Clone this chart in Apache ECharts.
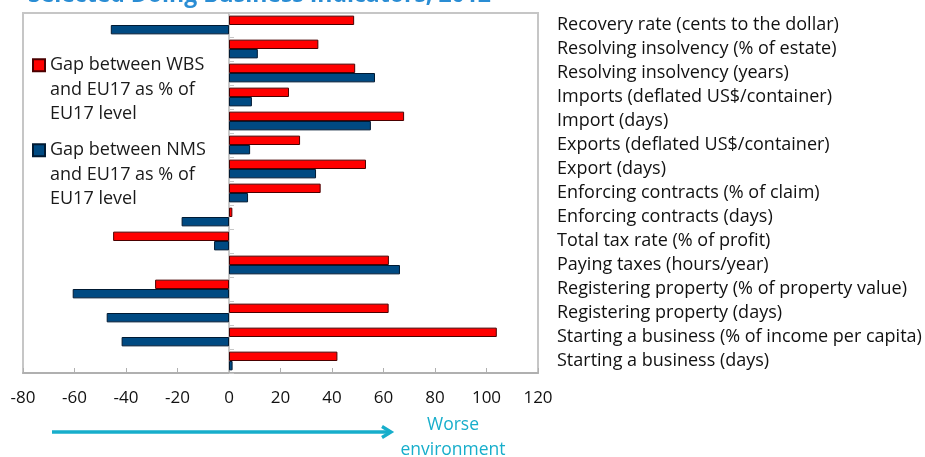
<!DOCTYPE html>
<html>
<head>
<meta charset="utf-8">
<script src="https://cdn.jsdelivr.net/npm/echarts@6/dist/echarts.min.js"></script>
<style>
  html, body { margin: 0; padding: 0; background: #fff; }
  #chart { width: 925px; height: 457px; }
</style>
</head>
<body>
<div id="chart"></div>
<script>
// categories, top to bottom
const categories = [
  'Recovery rate (cents to the dollar)',
  'Resolving insolvency (% of estate)',
  'Resolving insolvency (years)',
  'Imports (deflated US$/container)',
  'Import (days)',
  'Exports (deflated US$/container)',
  'Export (days)',
  'Enforcing contracts (% of claim)',
  'Enforcing contracts (days)',
  'Total tax rate (% of profit)',
  'Paying taxes (hours/year)',
  'Registering property (% of property value)',
  'Registering property (days)',
  'Starting a business (% of income per capita)',
  'Starting a business (days)'
];
const seriesNames = [
  'Gap between WBS\nand EU17 as % of\nEU17 level',
  'Gap between NMS\nand EU17 as % of\nEU17 level'
];
const wbsGap = [48.6, 34.7, 49, 23.3, 68, 27.6, 53.2, 35.6, 1.3, -45, 62.1, -28.7, 62, 104, 42.1];
const nmsGap = [-45.9, 11.2, 56.7, 8.9, 55.1, 8.2, 33.8, 7.4, -18.4, -5.8, 66.4, -60.7, -47.5, -41.7, 1.4];
const xTicks = { min: -80, max: 120, step: 20 };

const FONT = '"Open Sans", "Noto Sans", sans-serif';
const chart = echarts.init(document.getElementById('chart'));

// two empty lines in front so the square sits next to the first text line
const legendText = {
  fontFamily: FONT,
  fontSize: 18,
  color: '#1a1a1a',
  lineHeight: 24.5
};
const legendFormatter = name => '\n\n' + name;

const option = {
  animation: false,
  textStyle: { fontFamily: FONT },
  title: {
    text: 'Selected Doing Business Indicators, 2012',
    left: 28,
    top: -16,
    padding: 0,
    textStyle: { fontFamily: FONT, fontSize: 23, fontWeight: 'bold', color: '#2a8dd4' }
  },
  legend: [
    {
      data: [seriesNames[0]],
      left: 32, top: 4, padding: 0,
      icon: 'rect', itemWidth: 12, itemHeight: 12,
      formatter: legendFormatter,
      textStyle: legendText
    },
    {
      data: [seriesNames[1]],
      left: 32, top: 89, padding: 0,
      icon: 'rect', itemWidth: 12, itemHeight: 12,
      formatter: legendFormatter,
      textStyle: legendText
    }
  ],
  grid: {
    left: 23, right: 387, top: 13, bottom: 84,
    show: true,
    borderColor: '#c6c6c6',
    borderWidth: 2
  },
  xAxis: {
    type: 'value',
    min: xTicks.min, max: xTicks.max, interval: xTicks.step,
    axisLine: { show: true, lineStyle: { color: '#b0b0b0', width: 2 } },
    axisTick: { show: true, inside: true, length: 5, lineStyle: { color: '#b0b0b0' } },
    splitLine: { show: false },
    axisLabel: { fontFamily: FONT, fontSize: 17, color: '#111', margin: 17 }
  },
  yAxis: [
    {
      type: 'category',
      data: categories,
      inverse: true,
      axisLine: { show: true, onZero: true, lineStyle: { color: '#b8b8b8', width: 1.5 } },
      axisTick: { show: true, inside: true, length: 5, lineStyle: { color: '#c8c8c8' } },
      axisLabel: { show: false },
      splitLine: { show: false }
    },
    {
      type: 'category',
      data: categories,
      inverse: true,
      position: 'right',
      axisLine: { show: false, onZero: false },
      axisTick: { show: false },
      axisLabel: { fontFamily: FONT, fontSize: 18, color: '#111', margin: 19 },
      splitLine: { show: false }
    }
  ],
  series: [
    {
      name: seriesNames[0],
      type: 'bar',
      yAxisIndex: 0,
      data: wbsGap,
      barGap: '0%',
      barCategoryGap: '22%',
      itemStyle: { color: '#ff0000', borderColor: '#4a0000', borderWidth: 1 }
    },
    {
      name: seriesNames[1],
      type: 'bar',
      yAxisIndex: 0,
      data: nmsGap,
      barGap: '0%',
      barCategoryGap: '22%',
      itemStyle: { color: '#004a82', borderColor: '#001a33', borderWidth: 1 }
    }
  ],
  graphic: [
    {
      type: 'line',
      shape: { x1: 52, y1: 432, x2: 389, y2: 432 },
      style: { stroke: '#17aecb', lineWidth: 3.3 }
    },
    {
      type: 'polyline',
      shape: { points: [[382, 426.5], [391, 432], [382, 437.5]] },
      style: { stroke: '#17aecb', lineWidth: 3.3, fill: null }
    },
    {
      type: 'text',
      x: 453, y: 413,
      style: {
        text: 'Worse\nenvironment',
        fontFamily: FONT, fontSize: 17.5, lineHeight: 25,
        fill: '#17aecb', align: 'center', verticalAlign: 'top'
      }
    }
  ]
};

chart.setOption(option);
</script>
</body>
</html>
